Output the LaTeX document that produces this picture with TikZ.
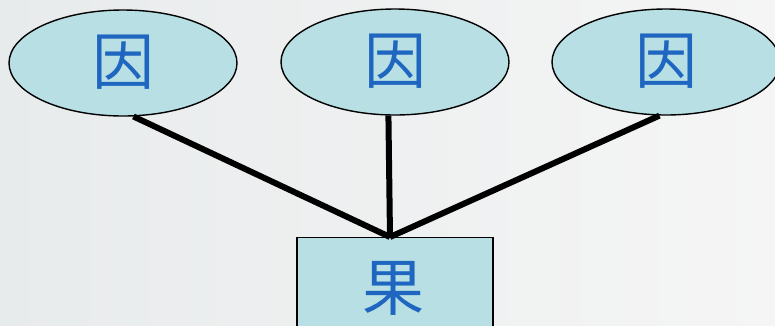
\documentclass[tikz,border=0pt]{standalone}
\usepackage{fontspec}
\newfontfamily\cjk{Noto Sans CJK SC}
\usetikzlibrary{shapes.geometric}
\definecolor{boxfill}{RGB}{183,223,228}
\definecolor{txtblue}{RGB}{30,102,192}
\definecolor{bgA}{RGB}{232,235,236}
\definecolor{bgB}{RGB}{245,245,245}
\tikzset{
  cause/.style={ellipse, draw=black, line width=1.4pt, fill=boxfill, inner sep=0pt,
    minimum width=228pt, minimum height=106pt},
  effect/.style={rectangle, draw=black, line width=1.4pt, fill=boxfill, inner sep=0pt,
    minimum width=196pt, minimum height=100pt, anchor=north},
  glyph/.style={text=txtblue, font=\cjk\fontsize{62}{62}\selectfont},
  link/.style={line width=6pt, draw=black}
}
\begin{document}
\begin{tikzpicture}[x=1pt,y=-1pt]
\useasboundingbox (0,0) rectangle (775,325);
\clip (0,0) rectangle (775,325);
\shade[left color=bgA, right color=bgB] (0,0) rectangle (775,325);
\node[cause] (c1) at (123,63) {};
\node[cause] (c2) at (395,62) {};
\node[cause] (c3) at (666,62) {};
\node[glyph] (t1) at (123,62) {因};
\node[glyph] (t2) at (395,61) {因};
\node[glyph] (t3) at (666,61) {因};
\node[effect] (e) at (395,237) {};
\node[glyph] (te) at (393,288) {果};
\coordinate (m) at (390,237);
\draw[link] (c1.-79) -- (m);
\draw[link] (c2.-97) -- (m);
\draw[link] (c3.-97) -- (m);
\end{tikzpicture}
\end{document}
